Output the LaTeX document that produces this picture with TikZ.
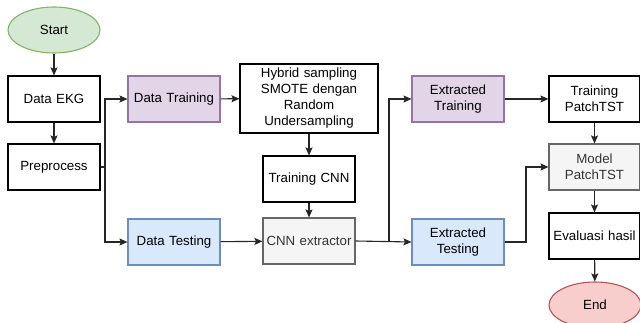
\documentclass[tikz,border=0pt]{standalone}
\usepackage{fontspec}
\setmainfont{Liberation Sans}
\usetikzlibrary{arrows.meta,shapes.geometric}
\definecolor{gfill}{HTML}{D5E8D4}\definecolor{gdraw}{HTML}{82B366}
\definecolor{pfill}{HTML}{E1D5E7}\definecolor{pdraw}{HTML}{9673A6}
\definecolor{bfill}{HTML}{DAE8FC}\definecolor{bdraw}{HTML}{6C8EBF}
\definecolor{sfill}{HTML}{F5F5F5}\definecolor{sdraw}{HTML}{666666}\definecolor{stext}{HTML}{333333}
\definecolor{rfill}{HTML}{F8CECC}\definecolor{rdraw}{HTML}{B85450}
\begin{document}
\begin{tikzpicture}[x=1pt,y=-1pt,
  every node/.style={font=\fontsize{13.3}{16}\selectfont, align=center, inner sep=1pt},
  box/.style={draw=black, line width=1.1pt, fill=white, minimum width=92pt, minimum height=46pt, text width=88pt},
  purple/.style={box, draw=pdraw, fill=pfill},
  blue/.style={box, draw=bdraw, fill=bfill},
  grey/.style={box, draw=sdraw, fill=sfill, text=stext},
  oval/.style={ellipse, line width=1.1pt, minimum width=92pt, minimum height=46pt},
  arr/.style={line width=1.1pt, draw=black!85, -{Stealth[length=8pt,width=7pt,inset=1.5pt]}},
  ln/.style={line width=1.1pt, draw=black!85}]
\useasboundingbox (0,0) rectangle (640,323);
\node[oval, draw=gdraw, fill=gfill] (start) at (54,30) {Start};
\node[box] (ekg) at (54,99) {Data EKG};
\node[box] (pre) at (54,167) {Preprocess};
\node[purple] (dtr) at (174,99) {Data Training};
\node[blue] (dte) at (174,242) {Data Testing};
\node[box, minimum width=138pt, minimum height=69pt, text width=134pt] (hyb) at (309,98.5) {Hybrid sampling\\SMOTE dengan\\Random\\Undersampling};
\node[box] (tcnn) at (309,179) {Training CNN};
\node[grey] (cnn) at (309,241) {CNN extractor};
\node[purple] (etr) at (458,99) {Extracted\\Training};
\node[blue] (ete) at (458,242) {Extracted\\Testing};
\node[box, minimum width=91pt] (tpt) at (594.5,99) {Training\\PatchTST};
\node[grey, minimum width=91pt] (mpt) at (594.5,167) {Model\\PatchTST};
\node[box, minimum width=91pt] (eva) at (594.5,236) {Evaluasi hasil};
\node[oval, draw=rdraw, fill=rfill] (end) at (595,305) {End};
\coordinate (b1) at (105,167);
\coordinate (b2) at (389,241);
\coordinate (b3) at (526,242);
\draw[arr] (start) -- (ekg);
\draw[arr] (ekg) -- (pre);
\draw[ln] (pre.east) -- (b1);
\draw[arr] (b1) |- (dtr.west);
\draw[arr] (b1) |- (dte.west);
\draw[arr] (dtr) -- (hyb);
\draw[arr] (hyb) -- (tcnn);
\draw[arr] (tcnn) -- (cnn);
\draw[arr] (dte) -- (cnn);
\draw[arr] (cnn.east) -- (ete.west);
\draw[arr] (b2) |- (etr.west);
\draw[arr] (etr) -- (tpt);
\draw[arr] (tpt) -- (mpt);
\draw[arr] (ete.east) -- (b3) |- (mpt.west);
\draw[arr] (mpt) -- (eva);
\draw[arr] (eva) -- (end);
\end{tikzpicture}
\end{document}
